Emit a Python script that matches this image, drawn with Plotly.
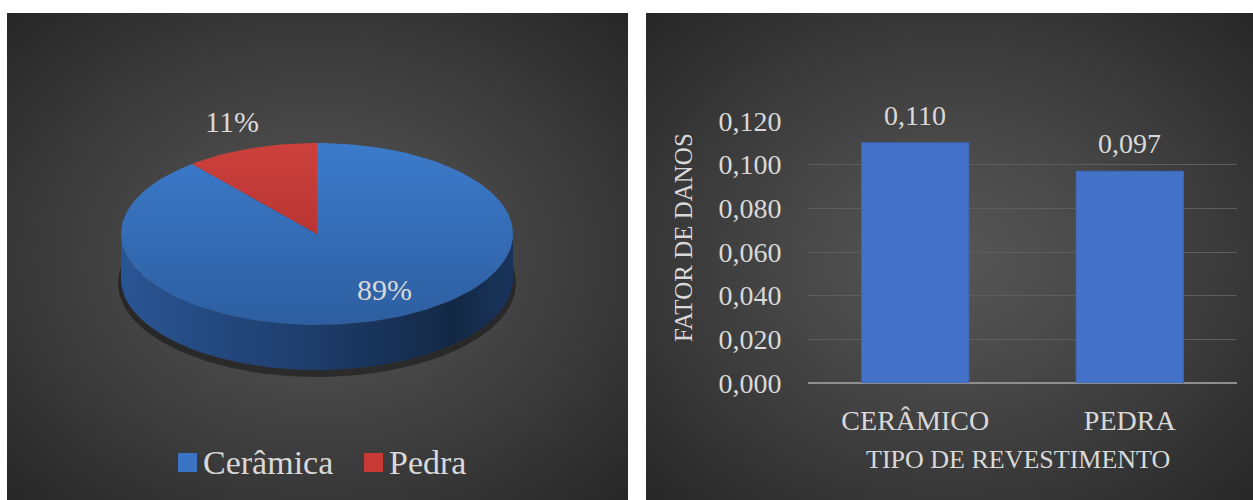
import base64
import struct
import zlib

import numpy as np
import plotly.graph_objects as go

# ---- data -------------------------------------------------------------
pie_labels = ["Cerâmica", "Pedra"]
pie_values = [89, 11]
pie_colors_top = [("#3c7bcb", "#2d5ea0"), ("#cc403c", "#a52b2b")]
legend_colors = ["#3a74c4", "#c93a37"]

bar_categories = ["CERÂMICO", "PEDRA"]
bar_values = [0.110, 0.097]
y_ticks = [0.000, 0.020, 0.040, 0.060, 0.080, 0.100, 0.120]

W, H = 1253, 500
FONT = "Liberation Serif, Times New Roman, serif"
TXT = "#d9d9d9"


def px(x):
    return x / W


def py(y):
    return 1 - y / H


# ---- panel backgrounds: radial gradient rendered as small PNGs ----------
def png_uri(arr):
    h, w, _ = arr.shape
    raw = b"".join(b"\x00" + arr[r].tobytes() for r in range(h))

    def chunk(tag, data):
        c = tag + data
        return struct.pack(">I", len(data)) + c + struct.pack(">I", zlib.crc32(c) & 0xFFFFFFFF)

    png = b"\x89PNG\r\n\x1a\n"
    png += chunk(b"IHDR", struct.pack(">IIBBBBB", w, h, 8, 2, 0, 0, 0))
    png += chunk(b"IDAT", zlib.compress(raw, 9))
    png += chunk(b"IEND", b"")
    return "data:image/png;base64," + base64.b64encode(png).decode()


def radial_panel(w, h, cx, cy, inner=0x56, outer=0x27):
    sw, sh = w // 4, h // 4
    xs = (np.arange(sw) + 0.5) * 4
    ys = (np.arange(sh) + 0.5) * 4
    X, Y = np.meshgrid(xs, ys)
    d = np.sqrt(((X - cx) / (0.6 * w)) ** 2 + ((Y - cy) / (0.6 * h)) ** 2) / 1.18
    t = np.clip(d, 0, 1) ** 1.2
    v = inner - (inner - outer) * t
    img = np.stack([v, v, v], axis=-1).astype(np.uint8)
    return png_uri(img)


left_box = (7, 13, 628, 500)
right_box = (646, 13, 1253, 500)

fig = go.Figure()

for (x0, y0, x1, y1), cxr in ((left_box, 311), (right_box, 304)):
    w, h = x1 - x0, y1 - y0
    fig.add_layout_image(
        source=radial_panel(w, h, cxr, 243),
        xref="paper", yref="paper",
        x=px(x0), y=py(y0), sizex=(w) / W, sizey=(h) / H,
        xanchor="left", yanchor="top", sizing="stretch", layer="below",
    )

# ---- 3D-style pie drawn on a pixel-scaled cartesian frame ---------------
cx, cy, a, b, depth = 317, 234, 196, 91, 45


def ellipse_pt(theta, dy=0.0, ra=a, rb=b):
    return cx + ra * np.sin(theta), cy - rb * np.cos(theta) + dy


# soft shadow beneath the disc
th = np.linspace(0, 2 * np.pi, 200)
sx, sy = ellipse_pt(th, depth + 4, a + 3, b + 3)
fig.add_trace(go.Scatter(x=sx, y=sy, fill="toself", mode="lines", line=dict(width=0),
                         fillcolor="rgba(0,0,0,0.4)", hoverinfo="skip", showlegend=False,
                         xaxis="x", yaxis="y"))

# visible front wall of the disc (lower half of the rim)
th_front = np.linspace(np.pi / 2, 3 * np.pi / 2, 200)
tx, ty = ellipse_pt(th_front)
bx, by = ellipse_pt(th_front[::-1], depth)
fig.add_trace(go.Scatter(
    x=np.concatenate([tx, bx]), y=np.concatenate([ty, by]),
    fill="toself", mode="lines", line=dict(width=0),
    fillgradient=dict(type="horizontal", start=cx - a, stop=cx + a,
                      colorscale=[[0, "#2a5594"], [0.5, "#1d3c69"], [0.85, "#132845"], [1, "#19345c"]]),
    hoverinfo="skip", showlegend=False, xaxis="x", yaxis="y"))

# top face slices, clockwise from 12 o'clock
total = sum(pie_values)
start = 0.0
for lab, val, (c_top, c_bot) in zip(pie_labels, pie_values, pie_colors_top):
    sweep = 2 * np.pi * val / total
    th_s = np.linspace(start, start + sweep, max(int(200 * val / total), 8))
    ex, ey = ellipse_pt(th_s)
    xs = np.concatenate([[cx], ex, [cx]])
    ys = np.concatenate([[cy], ey, [cy]])
    fig.add_trace(go.Scatter(
        x=xs, y=ys, fill="toself", mode="lines", line=dict(width=0),
        fillgradient=dict(type="vertical", start=cy - b, stop=cy + b,
                          colorscale=[[0, c_top], [1, c_bot]]),
        name=lab, hoverinfo="skip", showlegend=False, xaxis="x", yaxis="y"))
    start += sweep

# ---- bar chart -----------------------------------------------------------
fig.add_trace(go.Bar(
    x=bar_categories, y=bar_values, xaxis="x2", yaxis="y2",
    marker=dict(color="#4572c9", line=dict(color="#3d66b8", width=1)),
    showlegend=False, hoverinfo="skip"))

annotations = []
for cat, v in zip(bar_categories, bar_values):
    annotations.append(dict(
        x=cat, y=v, xref="x2", yref="y2", text=f"{v:.3f}".replace(".", ","),
        showarrow=False, xanchor="center", yanchor="bottom", yshift=10,
        font=dict(family=FONT, size=28, color=TXT)))

# pie percentage labels
pcts = [f"{round(100 * v / total)}%" for v in pie_values]
for txt, (lx, ly) in zip(pcts, ((384, 289), (232, 121))):
    annotations.append(dict(x=px(lx), y=py(ly), xref="paper", yref="paper", text=txt,
                            showarrow=False, xanchor="center", yanchor="middle",
                            font=dict(family=FONT, size=30, color=TXT)))

# pie legend
shapes = []
for lab, col, sq_x in zip(pie_labels, legend_colors, (178, 364)):
    shapes.append(dict(type="rect", xref="paper", yref="paper",
                       x0=px(sq_x), x1=px(sq_x + 19), y0=py(472), y1=py(453),
                       fillcolor=col, line=dict(width=0)))
    annotations.append(dict(x=px(sq_x + 23), y=py(462), xref="paper", yref="paper",
                            text=lab, showarrow=False, xanchor="left", yanchor="middle",
                            font=dict(family=FONT, size=34, color=TXT)))

# axis titles of the bar chart
annotations.append(dict(x=px(683), y=py(238), xref="paper", yref="paper",
                        text="FATOR DE DANOS", textangle=-90, showarrow=False,
                        xanchor="center", yanchor="middle",
                        font=dict(family=FONT, size=25, color=TXT)))
annotations.append(dict(x=px(1018), y=py(459), xref="paper", yref="paper",
                        text="TIPO DE REVESTIMENTO", showarrow=False,
                        xanchor="center", yanchor="middle",
                        font=dict(family=FONT, size=26, color=TXT)))

fig.update_layout(
    template="none",
    width=W, height=H,
    margin=dict(l=0, r=0, t=0, b=0, pad=0),
    paper_bgcolor="white",
    plot_bgcolor="rgba(0,0,0,0)",
    font=dict(family=FONT, color=TXT),
    separators=",.",
    bargap=0.5,
    showlegend=False,
    xaxis=dict(domain=[px(7), px(628)], range=[7, 628], visible=False, fixedrange=True,
               automargin=False),
    yaxis=dict(domain=[0, py(13)], range=[500, 13], visible=False, fixedrange=True,
               automargin=False),
    xaxis2=dict(domain=[px(808), px(1237)], anchor="y2", showgrid=False, showline=False,
                zeroline=False, automargin=False,
                ticks="outside", ticklen=12, tickcolor="rgba(0,0,0,0)",
                tickfont=dict(family=FONT, size=28, color=TXT)),
    yaxis2=dict(domain=[py(383), py(121)], anchor="x2", range=[0, 0.12],
                tickvals=y_ticks, tickformat=".3f", automargin=False,
                showgrid=True, gridcolor="#5e5e5e", gridwidth=1,
                zeroline=True, zerolinecolor="#8f8f8f", zerolinewidth=2,
                showline=False, ticks="outside", ticklen=20, tickcolor="rgba(0,0,0,0)",
                tickfont=dict(family=FONT, size=28, color=TXT)),
    shapes=shapes,
    annotations=annotations,
)

fig.write_html("out.html")
